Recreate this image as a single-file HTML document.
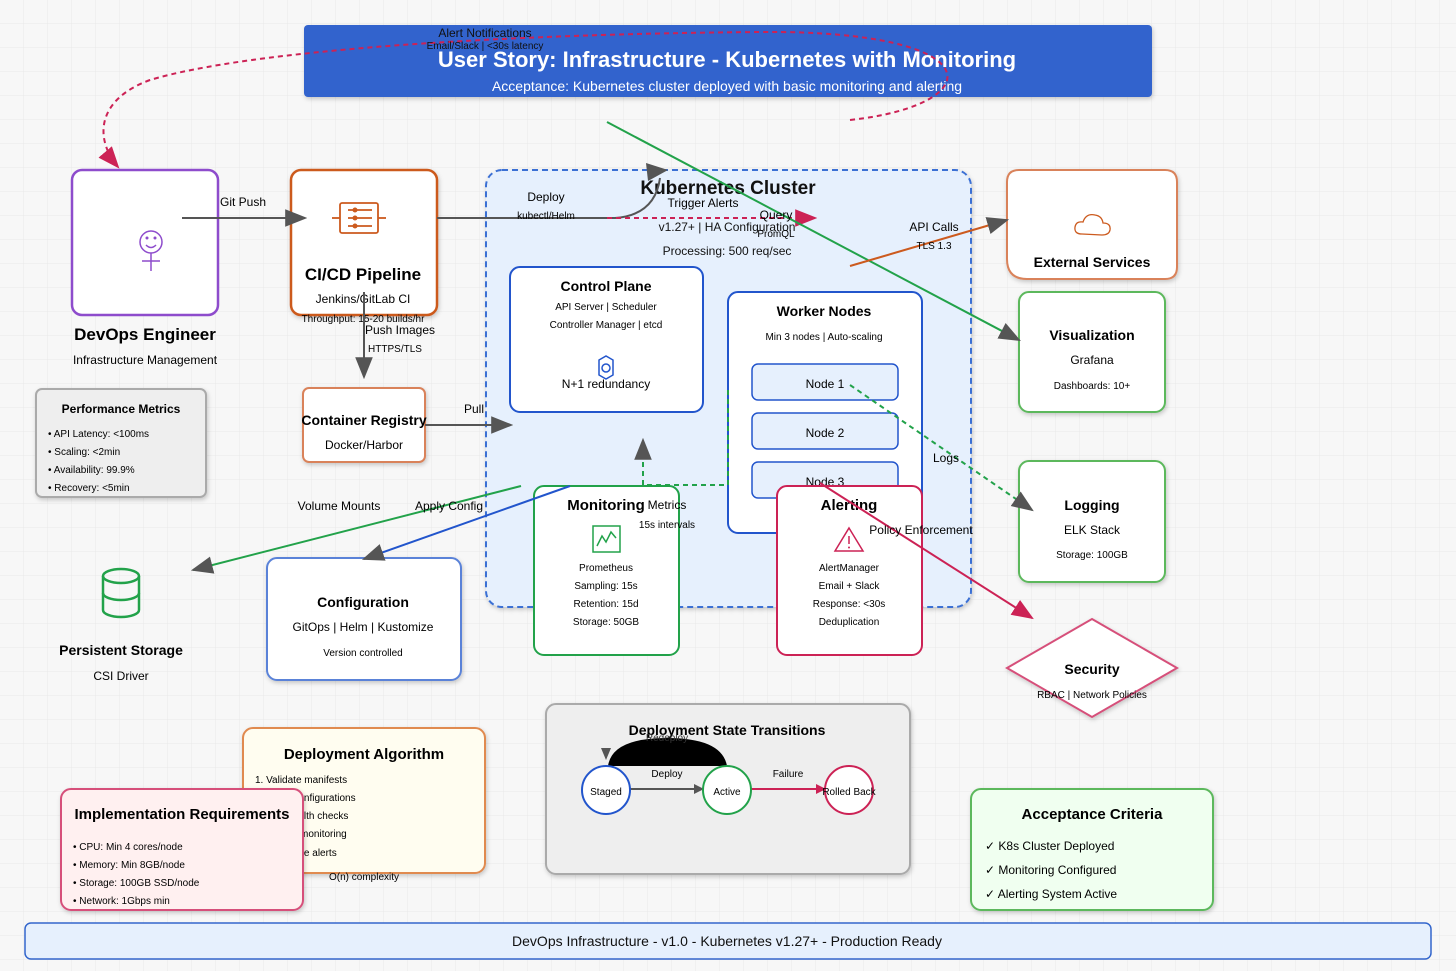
<!DOCTYPE html>
<html><head><meta charset="utf-8"><style>
html,body{margin:0;padding:0;background:#f7f7f7}
svg{display:block;font-family:"Liberation Sans",Arial,sans-serif}
</style></head><body>
<svg width="1456" height="971" viewBox="0 0 1456 971" xmlns="http://www.w3.org/2000/svg">
<defs>
<pattern id="g" width="24" height="24" patternUnits="userSpaceOnUse"><path d="M24 0V24H0" fill="none" stroke="#e9e9e9" stroke-width="1"/></pattern>
<marker id="ag" markerWidth="10" markerHeight="10" refX="9" refY="5" orient="auto" markerUnits="userSpaceOnUse" viewBox="0 0 10 10"><path d="M0,0L10,5L0,10z" fill="#555"/></marker>
<marker id="ar" markerWidth="10" markerHeight="10" refX="9" refY="5" orient="auto" markerUnits="userSpaceOnUse" viewBox="0 0 10 10"><path d="M0,0L10,5L0,10z" fill="#cc2255"/></marker>
<marker id="big" viewBox="0 0 10 10" refX="9" refY="5" markerWidth="22" markerHeight="22" orient="auto" markerUnits="userSpaceOnUse"><path d="M0,1L10,5L0,9z" fill="#555"/></marker>
<marker id="bigr" viewBox="0 0 10 10" refX="9" refY="5" markerWidth="22" markerHeight="22" orient="auto" markerUnits="userSpaceOnUse"><path d="M0,1L10,5L0,9z" fill="#cc2255"/></marker>
<filter id="sh" x="-10%" y="-10%" width="120%" height="130%"><feDropShadow dx="1" dy="2" stdDeviation="2" flood-opacity="0.2"/></filter>
</defs>
<rect width="1456" height="971" fill="#f7f7f7"/>
<rect width="1456" height="971" fill="url(#g)"/>

<!-- header -->
<rect x="304" y="25" width="848" height="72" rx="4" fill="#3163cd" filter="url(#sh)"/>
<text x="727" y="67" text-anchor="middle" font-size="22" font-weight="bold" fill="#fff">User Story: Infrastructure - Kubernetes with Monitoring</text>
<text x="727" y="91" text-anchor="middle" font-size="14" fill="#fff">Acceptance: Kubernetes cluster deployed with basic monitoring and alerting</text>

<!-- kube cluster -->
<rect x="486" y="170" width="485" height="437" rx="16" fill="#e6f0fd" stroke="#3b6fd4" stroke-width="2" stroke-dasharray="6,4" filter="url(#sh)"/>
<text x="728" y="194" text-anchor="middle" font-size="19" font-weight="bold" fill="#111">Kubernetes Cluster</text>
<text x="727" y="231" text-anchor="middle" font-size="12" fill="#111">v1.27+ | HA Configuration</text>
<text x="727" y="255" text-anchor="middle" font-size="12" fill="#111">Processing: 500 req/sec</text>

<!-- Control plane -->
<rect x="510" y="267" width="193" height="145" rx="10" fill="#fff" stroke="#2255cc" stroke-width="2"/>
<text x="606" y="291" text-anchor="middle" font-size="14" font-weight="bold">Control Plane</text>
<text x="606" y="310" text-anchor="middle" font-size="10">API Server | Scheduler</text>
<text x="606" y="328" text-anchor="middle" font-size="10">Controller Manager | etcd</text>
<g stroke="#2255cc" stroke-width="1.5" fill="none"><path d="M599,360 L606,356 L613,360 L613,375 L606,379 L599,375Z"/><circle cx="606" cy="368" r="4"/></g>
<text x="606" y="388" text-anchor="middle" font-size="12">N+1 redundancy</text>

<!-- Worker nodes -->
<rect x="728" y="292" width="194" height="241" rx="10" fill="#fff" stroke="#2255cc" stroke-width="2"/>
<text x="824" y="316" text-anchor="middle" font-size="14" font-weight="bold">Worker Nodes</text>
<text x="824" y="340" text-anchor="middle" font-size="10">Min 3 nodes | Auto-scaling</text>
<rect x="752" y="364" width="146" height="36" rx="6" fill="#e6f0fd" stroke="#2255cc" stroke-width="1.5"/>
<text x="825" y="388" text-anchor="middle" font-size="12">Node 1</text>
<rect x="752" y="413" width="146" height="36" rx="6" fill="#e6f0fd" stroke="#2255cc" stroke-width="1.5"/>
<text x="825" y="437" text-anchor="middle" font-size="12">Node 2</text>
<rect x="752" y="462" width="146" height="36" rx="6" fill="#e6f0fd" stroke="#2255cc" stroke-width="1.5"/>
<text x="825" y="486" text-anchor="middle" font-size="12">Node 3</text>

<!-- green dashed metrics -->
<path d="M728,390 L728,485 L643,485 L643,440" fill="none" stroke="#22a24a" stroke-width="2" stroke-dasharray="5,4" marker-end="url(#big)"/>

<!-- Monitoring -->
<rect x="534" y="486" width="145" height="169" rx="10" fill="#fff" stroke="#22a24a" stroke-width="2"/>
<text x="606" y="510" text-anchor="middle" font-size="15" font-weight="bold">Monitoring</text>
<rect x="593" y="526" width="27" height="26" fill="none" stroke="#22a24a" stroke-width="1.5"/>
<path d="M597,546 L602,536 L606,542 L611,532 L616,538" fill="none" stroke="#22a24a" stroke-width="1.5"/>
<text x="606" y="571" text-anchor="middle" font-size="10">Prometheus</text>
<text x="606" y="589" text-anchor="middle" font-size="10">Sampling: 15s</text>
<text x="606" y="607" text-anchor="middle" font-size="10">Retention: 15d</text>
<text x="606" y="625" text-anchor="middle" font-size="10">Storage: 50GB</text>
<text x="667" y="509" text-anchor="middle" font-size="12">Metrics</text>
<text x="667" y="528" text-anchor="middle" font-size="10">15s intervals</text>

<!-- Alerting -->
<rect x="777" y="486" width="145" height="169" rx="10" fill="#fff" stroke="#cc2255" stroke-width="2"/>
<text x="849" y="510" text-anchor="middle" font-size="15" font-weight="bold">Alerting</text>
<path d="M849,528 L863,551 L835,551Z" fill="none" stroke="#cc2255" stroke-width="1.5"/>
<line x1="849" y1="536" x2="849" y2="544" stroke="#cc2255" stroke-width="1.5"/><circle cx="849" cy="547.5" r="1" fill="#cc2255"/>
<text x="849" y="571" text-anchor="middle" font-size="10">AlertManager</text>
<text x="849" y="589" text-anchor="middle" font-size="10">Email + Slack</text>
<text x="849" y="607" text-anchor="middle" font-size="10">Response: &lt;30s</text>
<text x="849" y="625" text-anchor="middle" font-size="10">Deduplication</text>

<!-- DevOps -->
<rect x="72" y="170" width="146" height="145" rx="10" fill="#fff" stroke="#8e4ccc" stroke-width="2.5"/>
<g stroke="#8e4ccc" stroke-width="1.5" fill="none"><circle cx="151" cy="242" r="11"/><line x1="151" y1="253" x2="151" y2="271"/><line x1="142" y1="261" x2="160" y2="261"/><path d="M146,245 Q151,250 156,245"/></g>
<circle cx="147" cy="238" r="1.5" fill="#8e4ccc"/><circle cx="155" cy="238" r="1.5" fill="#8e4ccc"/>
<text x="145" y="340" text-anchor="middle" font-size="17" font-weight="bold">DevOps Engineer</text>
<text x="145" y="364" text-anchor="middle" font-size="12">Infrastructure Management</text>

<!-- CI/CD -->
<rect x="291" y="170" width="146" height="145" rx="10" fill="#fff" stroke="#cc5a1e" stroke-width="2.5" filter="url(#sh)"/>
<g stroke="#cc5a1e" stroke-width="1.8" fill="none"><rect x="340" y="203" width="38" height="30" rx="2"/><line x1="332" y1="218" x2="340" y2="218"/><line x1="378" y1="218" x2="386" y2="218"/><line x1="348" y1="210" x2="372" y2="210"/><line x1="348" y1="218" x2="372" y2="218"/><line x1="348" y1="226" x2="372" y2="226"/></g>
<circle cx="355" cy="210" r="2.5" fill="#cc5a1e"/><circle cx="355" cy="218" r="2.5" fill="#cc5a1e"/><circle cx="355" cy="226" r="2.5" fill="#cc5a1e"/>
<text x="363" y="280" text-anchor="middle" font-size="17" font-weight="bold">CI/CD Pipeline</text>
<text x="363" y="303" text-anchor="middle" font-size="12">Jenkins/GitLab CI</text>
<text x="363" y="322" text-anchor="middle" font-size="10">Throughput: 15-20 builds/hr</text>

<!-- registry -->
<rect x="303" y="388" width="122" height="74" rx="6" fill="#fff" stroke="#d9825a" stroke-width="2" filter="url(#sh)"/>
<text x="364" y="425" text-anchor="middle" font-size="14" font-weight="bold">Container Registry</text>
<text x="364" y="449" text-anchor="middle" font-size="12">Docker/Harbor</text>

<!-- perf metrics -->
<rect x="36" y="389" width="170" height="108" rx="6" fill="#eeeeee" stroke="#aaa" stroke-width="2" filter="url(#sh)"/>
<text x="121" y="413" text-anchor="middle" font-size="12" font-weight="bold">Performance Metrics</text>
<text x="48" y="437" font-size="10">• API Latency: &lt;100ms</text>
<text x="48" y="455" font-size="10">• Scaling: &lt;2min</text>
<text x="48" y="473" font-size="10">• Availability: 99.9%</text>
<text x="48" y="491" font-size="10">• Recovery: &lt;5min</text>

<!-- storage -->
<g stroke="#22a24a" stroke-width="2.5" fill="none"><ellipse cx="121" cy="576" rx="18" ry="7"/><path d="M103,576 V610 A18,7 0 0 0 139,610 V576"/><path d="M103,593 A18,7 0 0 0 139,593"/></g>
<text x="121" y="655" text-anchor="middle" font-size="14" font-weight="bold">Persistent Storage</text>
<text x="121" y="680" text-anchor="middle" font-size="12">CSI Driver</text>

<!-- configuration -->
<rect x="267" y="558" width="194" height="122" rx="10" fill="#fff" stroke="#5a82d8" stroke-width="2" filter="url(#sh)"/>
<text x="363" y="607" text-anchor="middle" font-size="14" font-weight="bold">Configuration</text>
<text x="363" y="631" text-anchor="middle" font-size="12">GitOps | Helm | Kustomize</text>
<text x="363" y="656" text-anchor="middle" font-size="10">Version controlled</text>

<!-- right side -->
<path d="M1019,170 H1165 Q1177,170 1177,182 V267 Q1177,279 1165,279 H1027 Q1007,279 1007,259 V182 Q1007,170 1019,170Z" fill="#fff" stroke="#d9825a" stroke-width="2" filter="url(#sh)"/>
<path d="M1082,234 Q1074,234 1075,227 Q1076,221 1083,222 Q1086,213 1095,215 Q1102,216 1103,223 Q1111,223 1110,230 Q1109,235 1102,235 Z" fill="none" stroke="#cc5a1e" stroke-width="1.3"/>
<text x="1092" y="267" text-anchor="middle" font-size="14" font-weight="bold">External Services</text>

<rect x="1019" y="292" width="146" height="120" rx="10" fill="#fff" stroke="#5cb85c" stroke-width="2" filter="url(#sh)"/>
<text x="1092" y="340" text-anchor="middle" font-size="14" font-weight="bold">Visualization</text>
<text x="1092" y="364" text-anchor="middle" font-size="12">Grafana</text>
<text x="1092" y="389" text-anchor="middle" font-size="10">Dashboards: 10+</text>

<rect x="1019" y="461" width="146" height="121" rx="10" fill="#fff" stroke="#5cb85c" stroke-width="2" filter="url(#sh)"/>
<text x="1092" y="510" text-anchor="middle" font-size="14" font-weight="bold">Logging</text>
<text x="1092" y="534" text-anchor="middle" font-size="12">ELK Stack</text>
<text x="1092" y="558" text-anchor="middle" font-size="10">Storage: 100GB</text>

<path d="M1092,619 L1177,668 L1092,717 L1007,668Z" fill="#fff" stroke="#d64f7a" stroke-width="2" filter="url(#sh)"/>
<text x="1092" y="674" text-anchor="middle" font-size="14" font-weight="bold">Security</text>
<text x="1092" y="698" text-anchor="middle" font-size="10">RBAC | Network Policies</text>

<!-- connectors -->
<line x1="182" y1="218" x2="305" y2="218" stroke="#555" stroke-width="2" marker-end="url(#big)"/>
<text x="243" y="206" text-anchor="middle" font-size="12">Git Push</text>
<line x1="364" y1="292" x2="364" y2="377" stroke="#555" stroke-width="2" marker-end="url(#big)"/>
<text x="400" y="334" text-anchor="middle" font-size="12">Push Images</text>
<text x="395" y="352" text-anchor="middle" font-size="10">HTTPS/TLS</text>
<line x1="425" y1="425" x2="511" y2="425" stroke="#555" stroke-width="2" marker-end="url(#big)"/>
<text x="474" y="413" text-anchor="middle" font-size="12">Pull</text>
<path d="M437,218 L615,218 Q655,215 660,178" fill="none" stroke="#555" stroke-width="2"/>
<path d="M646,163 L668,170 L648,181Z" fill="#555"/>
<text x="546" y="201" text-anchor="middle" font-size="12">Deploy</text>
<text x="546" y="219" text-anchor="middle" font-size="10">kubectl/Helm</text>
<line x1="607" y1="218" x2="815" y2="218" stroke="#cc2255" stroke-width="2" stroke-dasharray="5,4" marker-end="url(#bigr)"/>
<text x="703" y="207" text-anchor="middle" font-size="12">Trigger Alerts</text>
<line x1="607" y1="122" x2="1019" y2="340" stroke="#22a24a" stroke-width="2" marker-end="url(#big)"/>
<text x="776" y="219" text-anchor="middle" font-size="12">Query</text>
<text x="776" y="237" text-anchor="middle" font-size="10">PromQL</text>
<line x1="850" y1="266" x2="1007" y2="220" stroke="#cc5a1e" stroke-width="2" marker-end="url(#big)"/>
<text x="934" y="231" text-anchor="middle" font-size="12">API Calls</text>
<text x="934" y="249" text-anchor="middle" font-size="10">TLS 1.3</text>
<line x1="850" y1="385" x2="1032" y2="510" stroke="#22a24a" stroke-width="2" stroke-dasharray="5,4" marker-end="url(#big)"/>
<text x="946" y="462" text-anchor="middle" font-size="12">Logs</text>
<line x1="820" y1="483" x2="1032" y2="618" stroke="#cc2255" stroke-width="2" marker-end="url(#bigr)"/>
<text x="921" y="534" text-anchor="middle" font-size="12">Policy Enforcement</text>
<line x1="521" y1="486" x2="193" y2="570" stroke="#22a24a" stroke-width="2" marker-end="url(#big)"/>
<line x1="570" y1="486" x2="364" y2="559" stroke="#2255cc" stroke-width="2" marker-end="url(#big)"/>
<text x="339" y="510" text-anchor="middle" font-size="12">Volume Mounts</text>
<text x="449" y="510" text-anchor="middle" font-size="12">Apply Config</text>

<!-- alert notification curve -->
<path d="M850,120 C990,105 995,30 760,32 C500,34 250,50 150,80 C95,100 95,140 118,167" fill="none" stroke="#cc2255" stroke-width="2" stroke-dasharray="5,4" marker-end="url(#bigr)"/>
<text x="485" y="37" text-anchor="middle" font-size="12" fill="#111">Alert Notifications</text>
<text x="485" y="49" text-anchor="middle" font-size="10" fill="#111">Email/Slack | &lt;30s latency</text>

<!-- Deployment algorithm -->
<rect x="243" y="728" width="242" height="145" rx="10" fill="#fffdf0" stroke="#e08a50" stroke-width="2" filter="url(#sh)"/>
<text x="364" y="759" text-anchor="middle" font-size="15" font-weight="bold">Deployment Algorithm</text>
<text x="255" y="783" font-size="10">1. Validate manifests</text>
<text x="255" y="801" font-size="10">2. Apply configurations</text>
<text x="255" y="819" font-size="10">3. Run health checks</text>
<text x="255" y="837" font-size="10">4. Enable monitoring</text>
<text x="255" y="856" font-size="10">5. Configure alerts</text>
<text x="364" y="880" text-anchor="middle" font-size="10">O(n) complexity</text>

<rect x="61" y="789" width="242" height="121" rx="10" fill="#fff0f0" stroke="#d64f7a" stroke-width="2" filter="url(#sh)"/>
<text x="182" y="819" text-anchor="middle" font-size="15" font-weight="bold">Implementation Requirements</text>
<text x="73" y="850" font-size="10">• CPU: Min 4 cores/node</text>
<text x="73" y="868" font-size="10">• Memory: Min 8GB/node</text>
<text x="73" y="886" font-size="10">• Storage: 100GB SSD/node</text>
<text x="73" y="904" font-size="10">• Network: 1Gbps min</text>

<!-- state transitions -->
<rect x="546" y="704" width="364" height="170" rx="10" fill="#eeeeee" stroke="#aaa" stroke-width="2" filter="url(#sh)"/>
<text x="727" y="735" text-anchor="middle" font-size="14" font-weight="bold">Deployment State Transitions</text>
<path d="M608,766 Q612,738 667,738 Q722,738 727,766Z" fill="#000"/>
<path d="M601,748 L611,748 L606,760Z" fill="#555"/>
<text x="667" y="741" text-anchor="middle" font-size="10" fill="#333">Redeploy</text>
<line x1="630" y1="789" x2="703" y2="789" stroke="#555" stroke-width="2" marker-end="url(#ag)"/>
<text x="667" y="777" text-anchor="middle" font-size="10">Deploy</text>
<line x1="751" y1="789" x2="825" y2="789" stroke="#cc2255" stroke-width="2" marker-end="url(#ar)"/>
<text x="788" y="777" text-anchor="middle" font-size="10">Failure</text>
<circle cx="606" cy="790" r="24" fill="#fff" stroke="#2255cc" stroke-width="2"/>
<text x="606" y="795" text-anchor="middle" font-size="10">Staged</text>
<circle cx="727" cy="790" r="24" fill="#fff" stroke="#22a24a" stroke-width="2"/>
<text x="727" y="795" text-anchor="middle" font-size="10">Active</text>
<circle cx="849" cy="790" r="24" fill="#fff" stroke="#cc2255" stroke-width="2"/>
<text x="849" y="795" text-anchor="middle" font-size="10">Rolled Back</text>

<!-- acceptance -->
<rect x="971" y="789" width="242" height="121" rx="10" fill="#f0fff0" stroke="#5cb85c" stroke-width="2" filter="url(#sh)"/>
<text x="1092" y="819" text-anchor="middle" font-size="15" font-weight="bold">Acceptance Criteria</text>
<text x="985" y="850" font-size="12">✓ K8s Cluster Deployed</text>
<text x="985" y="874" font-size="12">✓ Monitoring Configured</text>
<text x="985" y="898" font-size="12">✓ Alerting System Active</text>

<!-- footer -->
<rect x="25" y="923" width="1406" height="36" rx="6" fill="#e6f0fd" stroke="#3366cc" stroke-width="1.5"/>
<text x="727" y="946" text-anchor="middle" font-size="14" fill="#111">DevOps Infrastructure - v1.0 - Kubernetes v1.27+ - Production Ready</text>
</svg>
</body></html>
